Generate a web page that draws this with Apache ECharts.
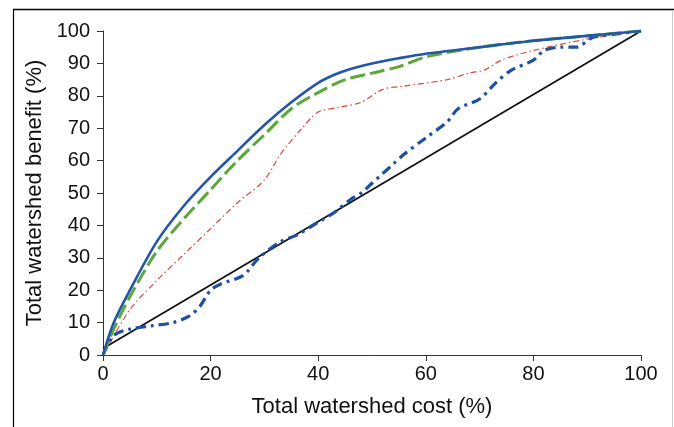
<!DOCTYPE html>
<html><head><meta charset="utf-8">
<script src="https://cdn.jsdelivr.net/npm/echarts@6/dist/echarts.min.js"></script>
<style>html,body{margin:0;padding:0;background:#fff}#c{width:674px;height:427px}</style>
</head><body><div id="c"></div>
<script>
const xTicks = [0, 20, 40, 60, 80, 100];
const yTicks = [0, 10, 20, 30, 40, 50, 60, 70, 80, 90, 100];

const blueSolid = [[0,0],[2,10],[5,20],[10,35],[15,46],[20,55],[25,63],[30,71],[35,78],[40,84],[43,86.5],[46,88.3],[50,90],[55,91.6],[60,93],[70,95],[80,97],[90,98.5],[100,100]];
const greenDashed = [[0,0],[2,8],[5,18],[10,32],[15,42],[20,51],[25,60],[30,68],[35,76],[40,81],[45,85],[50,87],[55,89],[60,92],[70,95],[80,97],[90,98.5],[100,100]];
const redDashDot = [[0,0],[5,14],[10,23],[15,31],[20,39],[25,47],[30,54],[33,62],[37,70],[40,75],[44,76.5],[48,78],[52,82],[56,83],[64,85],[68,87],[71,88],[74,91],[80,94],[90,97.5],[100,100]];
const blueDashDot = [[0,0],[2,6],[5,8],[9,9],[13,10],[16,12],[18,15],[20,20],[22,22],[26,24.5],[29,30],[33,35],[36,37],[40,41],[43,44],[46,48],[48,50],[50,53],[52,56],[54,59],[56,62],[60,67],[64,72],[66,76],[70,79],[73,84],[76,88],[80,91],[82,94],[85,95],[88,95],[91,98],[95,99],[100,100]];
const diagonal = [[0,2],[100,100]];

const chart = echarts.init(document.getElementById('c'));
const font = 'Liberation Sans, Arial, sans-serif';
function line(data, color, width, type, smooth, z){
  return {type:'line', data:data, showSymbol:false, smooth:smooth, z:z,
    lineStyle:{color:color, width:width, type:type, cap:'butt'}};
}
chart.setOption({
  animation:false,
  grid:{left:103, right:33, top:31, bottom:72},
  graphic:[
    {type:'line', shape:{x1:13,y1:9.5,x2:674,y2:9.5}, style:{stroke:'#000',lineWidth:1.5}},
    {type:'line', shape:{x1:13.5,y1:9,x2:13.5,y2:427}, style:{stroke:'#000',lineWidth:1.2}},
    {type:'line', shape:{x1:672.5,y1:10,x2:672.5,y2:427}, style:{stroke:'#ccc',lineWidth:1}}
  ],
  xAxis:{type:'value', min:0, max:100, interval:20,
    name:'Total watershed cost (%)', nameLocation:'middle', nameGap:41,
    nameTextStyle:{fontFamily:font, fontSize:22, color:'#111', verticalAlign:'top'},
    axisLine:{lineStyle:{color:'#333', width:1}},
    axisTick:{show:true, length:6, lineStyle:{color:'#333'}},
    axisLabel:{fontFamily:font, fontSize:20, color:'#111', margin:9},
    splitLine:{show:false}},
  yAxis:{type:'value', min:0, max:100, interval:10,
    name:'Total watershed benefit (%)', nameLocation:'middle', nameGap:51,
    nameTextStyle:{fontFamily:font, fontSize:22, color:'#111'},
    axisLine:{show:true, lineStyle:{color:'#333', width:1}},
    axisTick:{show:true, length:6, lineStyle:{color:'#333'}},
    axisLabel:{fontFamily:font, fontSize:20, color:'#111', margin:13},
    splitLine:{show:false}},
  series:[
    line(diagonal, '#111', 1.8, 'solid', false, 1),
    line(redDashDot, '#d9483b', 1.2, [6,3,1.5,3], 0.3, 2),
    line(blueDashDot, '#1f4fa0', 3.2, [10,5,3,5], 0.3, 3),
    line(greenDashed, '#5aa83a', 3, [15,5], 0.3, 4),
    line(blueSolid, '#2356a8', 2.6, 'solid', 0.3, 5)
  ]
});
</script></body></html>
